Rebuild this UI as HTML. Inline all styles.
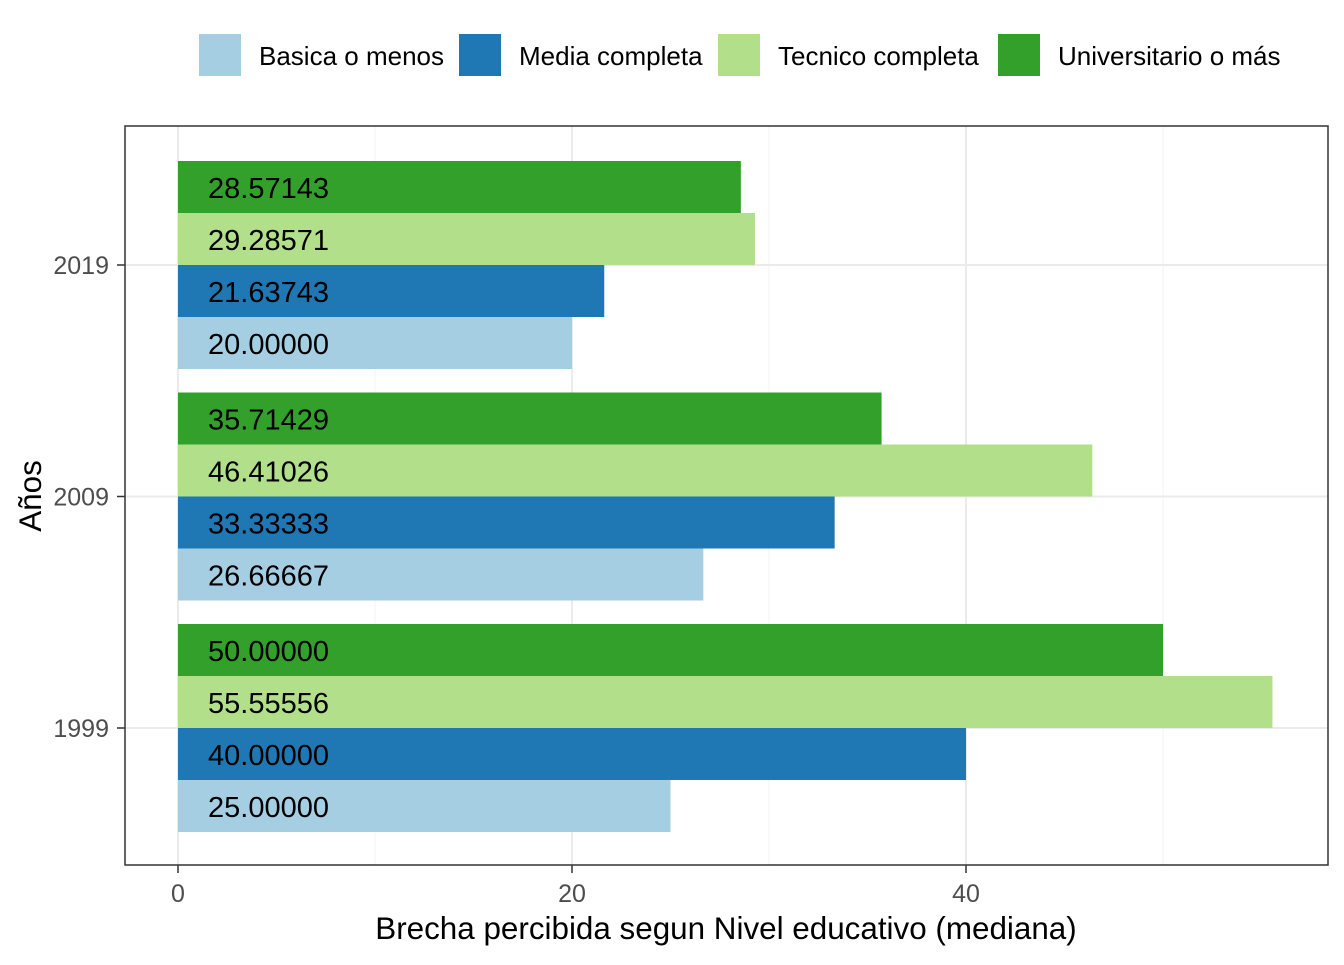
<!DOCTYPE html>
<html><head><meta charset="utf-8"><style>
body{margin:0;background:#fff;}
svg text{font-family:"Liberation Sans",Arial,sans-serif;}
</style></head><body>
<svg id="chart" width="1344" height="960"></svg>
<script>
const years = ["1999","2009","2019"];
const seriesNames = ["Basica o menos","Media completa","Tecnico completa","Universitario o más"];
const basica = [25.00000, 26.66667, 20.00000];
const media = [40.00000, 33.33333, 21.63743];
const tecnico = [55.55556, 46.41026, 29.28571];
const univ = [50.00000, 35.71429, 28.57143];
const xTicks = [0, 20, 40];
const xMinor = [10, 30, 50];
const colors = ["#a6cee3","#1f78b4","#b2df8a","#33a02c"];
const series = [basica, media, tecnico, univ];

const NS = "http://www.w3.org/2000/svg";
const svg = document.getElementById("chart");
const P = {l:125, r:1328, t:126, b:865};
const x = v => 178 + v * 19.7;
const yCenter = i => 728 - i * 231.5;
const barH = 52;
function el(tag, attrs, parent){ const e=document.createElementNS(NS,tag); for(const k in attrs) e.setAttribute(k,attrs[k]); (parent||svg).appendChild(e); return e; }

xMinor.forEach(v=>{ if(x(v)<P.r){ const g=el("line",{x1:x(v),x2:x(v),y1:P.t,y2:P.b,stroke:"#f3f3f3","stroke-width":1});

}});
xTicks.forEach(v=>{ const g=el("line",{x1:x(v),x2:x(v),y1:P.t,y2:P.b,stroke:"#ebebeb","stroke-width":2});

});
years.forEach((y,i)=>{ const g=el("line",{x1:P.l,x2:P.r,y1:yCenter(i),y2:yCenter(i),stroke:"#ebebeb","stroke-width":2});

});

years.forEach((yr,i)=>{
  series.forEach((s,j)=>{
    const top = yCenter(i) + 104 - (j+1)*barH;
    const r = el("rect",{x:x(0),y:top,width:x(s[i])-x(0),height:barH,fill:colors[j]});
    
    
    const t = el("text",{x:208,y:top+37,"font-size":29,fill:"#000"});
    t.textContent = s[i].toFixed(5);
    
    
  });
});

const border = el("rect",{x:P.l,y:P.t,width:P.r-P.l,height:P.b-P.t,fill:"none",stroke:"#333","stroke-width":1.5});



years.forEach((yr,i)=>{
  el("line",{x1:117,x2:125,y1:yCenter(i),y2:yCenter(i),stroke:"#333","stroke-width":1.5});
  const t=el("text",{x:109,y:yCenter(i)+9,"font-size":25,fill:"#4d4d4d","text-anchor":"end"});
  t.textContent=yr;
  
  
});
xTicks.forEach(v=>{
  el("line",{x1:x(v),x2:x(v),y1:865,y2:873,stroke:"#333","stroke-width":1.5});
  const t=el("text",{x:x(v),y:902,"font-size":25,fill:"#4d4d4d","text-anchor":"middle"});
  t.textContent=v;
  
  
});
const xt=el("text",{x:726,y:939,"font-size":31.4,fill:"#000","text-anchor":"middle"});
xt.textContent="Brecha percibida segun Nivel educativo (mediana)";


const yt=el("text",{x:0,y:0,"font-size":31.4,fill:"#000","text-anchor":"middle",transform:"translate(41,496) rotate(-90)"});
yt.textContent="Años";



const lx=[199,459,718,998];
seriesNames.forEach((n,j)=>{
  const g=el("g",{});
  
  
  el("rect",{x:lx[j],y:34,width:42,height:42,fill:colors[j]},g);
  const t=el("text",{x:lx[j]+60,y:65,"font-size":26,fill:"#000"},g);
  t.textContent=n;
});
</script>
</body></html>
